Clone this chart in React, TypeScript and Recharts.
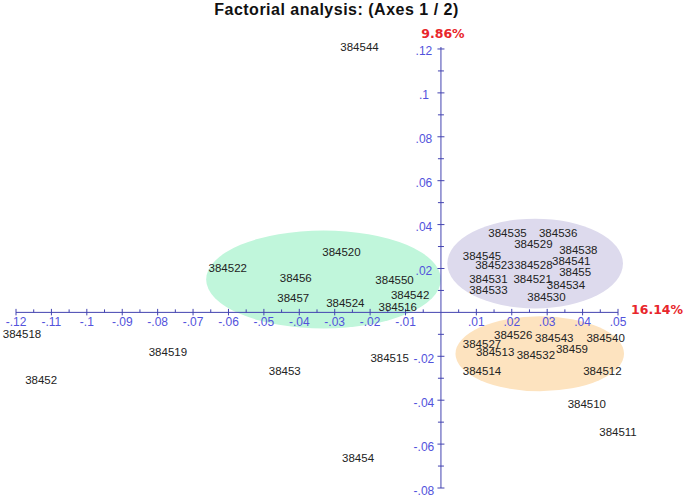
import { ScatterChart, Scatter, XAxis, YAxis, ReferenceLine, ReferenceArea } from "recharts";

// Labelled individuals, positions (axis 1 = x, axis 2 = y)
const pointNames = [
  "384544", "384518", "384519", "38452", "38453", "384515", "38454", "384510", "384511",
  "384520", "384522", "38456", "384550", "38457", "384542", "384524", "384516",
  "384535", "384536", "384529", "384538", "384545", "384523", "384528", "384541",
  "38455", "384531", "384521", "384534", "384533", "384530",
  "384526", "384543", "384540", "384527", "384513", "384532", "38459", "384514", "384512",
];
const pointX = [
  -0.023, -0.1183, -0.0771, -0.1129, -0.0441, -0.0145, -0.0234, 0.0412, 0.05,
  -0.0281, -0.0602, -0.041, -0.0131, -0.0417, -0.0087, -0.027, -0.0122,
  0.0188, 0.0331, 0.0261, 0.0388, 0.0116, 0.0151, 0.0261, 0.0368,
  0.0379, 0.0134, 0.0259, 0.0353, 0.0134, 0.0298,
  0.0204, 0.032, 0.0465, 0.0116, 0.0153, 0.0268, 0.037, 0.0116, 0.0456,
];
const pointY = [
  0.1209, -0.0097, -0.0182, -0.0309, -0.0268, -0.0208, -0.0662, -0.0417, -0.0544,
  0.0273, 0.0201, 0.0156, 0.0149, 0.0065, 0.008, 0.0042, 0.0024,
  0.036, 0.036, 0.031, 0.0282, 0.0258, 0.0217, 0.0217, 0.0232,
  0.0183, 0.0151, 0.0151, 0.0126, 0.01, 0.007,
  -0.0101, -0.0117, -0.0117, -0.0142, -0.0182, -0.0192, -0.0167, -0.0268, -0.0268,
];

// Cluster ellipses, given by their bounding box in data units
const clusterX1 = [-0.0663, 0.0018, 0.0041];
const clusterX2 = [0, 0.0514, 0.0517];
const clusterY1 = [-0.0073, 0.0018, -0.0359];
const clusterY2 = [0.0373, 0.0427, -0.0018];
const clusterColors = ["#c0f6db", "#dddaed", "#fde3bf"];

const xTickValues = [-0.12, -0.11, -0.1, -0.09, -0.08, -0.07, -0.06, -0.05, -0.04, -0.03, -0.02, -0.01, 0.01, 0.02, 0.03, 0.04, 0.05];
const xTickLabels = ["-.12", "-.11", "-.1", "-.09", "-.08", "-.07", "-.06", "-.05", "-.04", "-.03", "-.02", "-.01", ".01", ".02", ".03", ".04", ".05"];
const xMinorTicks = [-0.115, -0.105, -0.095, -0.085, -0.075, -0.065, -0.055, -0.045, -0.035, -0.025, -0.015, -0.005, 0.005, 0.015, 0.025, 0.035, 0.045];
const yTickValues = [-0.08, -0.06, -0.04, -0.02, 0.02, 0.04, 0.06, 0.08, 0.1, 0.12];
const yTickLabels = ["-.08", "-.06", "-.04", "-.02", ".02", ".04", ".06", ".08", ".1", ".12"];
const yMinorTicks = [-0.07, -0.05, -0.03, -0.01, 0.01, 0.03, 0.05, 0.07, 0.09, 0.11];

const axis1Pct = "16.14%";
const axis2Pct = "9.86%";
const title = "Factorial analysis: (Axes 1 / 2)";

const axisColor = "#4343b0";
const tickTextColor = "#5252dc";
const pctColor = "#e8262b";
const sans = "'Liberation Sans', Arial, sans-serif";

const points = pointNames.map((name, i) => ({ x: pointX[i], y: pointY[i], name }));
const xTicks = xTickValues.map((v, i) => ({ x: v, y: 0, label: xTickLabels[i] }));
const yTicks = yTickValues.map((v, i) => ({ x: 0, y: v, label: yTickLabels[i] }));
const xMinor = xMinorTicks.map((v) => ({ x: v, y: 0 }));
const yMinor = yMinorTicks.map((v) => ({ x: 0, y: v }));

const EllipseShape = (props: any) => {
  const { x, y, width, height, fill } = props;
  return <ellipse cx={x + width / 2} cy={y + height / 2} rx={width / 2} ry={height / 2} fill={fill} />;
};

const XTick = ({ cx, cy, payload }: any) => (
  <g>
    <line x1={cx} y1={cy - 3.5} x2={cx} y2={cy + 3} stroke={axisColor} />
    <text x={cx} y={cy + 13.5} textAnchor="middle" fill={tickTextColor} fontSize={12} fontFamily={sans}>
      {payload.label}
    </text>
  </g>
);

const YTick = ({ cx, cy, payload }: any) => (
  <g>
    <line x1={cx - 3.5} y1={cy} x2={cx + 3.5} y2={cy} stroke={axisColor} />
    <text x={cx - 17} y={cy + 6.5} textAnchor="middle" fill={tickTextColor} fontSize={12} fontFamily={sans}>
      {payload.label}
    </text>
  </g>
);

const XMinor = ({ cx, cy }: any) => <line x1={cx} y1={cy - 3} x2={cx} y2={cy} stroke={axisColor} />;
const YMinor = ({ cx, cy }: any) => <line x1={cx - 3} y1={cy} x2={cx + 3} y2={cy} stroke={axisColor} />;

const NameLabel = ({ cx, cy, payload }: any) => (
  <text x={cx} y={cy + 4} textAnchor="middle" fill="#222" fontSize={11.5} fontFamily={sans}>
    {payload.name}
  </text>
);

const pctText = { fill: pctColor, fontSize: 12.5, fontWeight: 700, fontFamily: "'DejaVu Sans', sans-serif" };

export default function App() {
  return (
    <div style={{ position: "absolute", left: 0, top: 0, width: 687, height: 499, background: "#fff" }}>
      <div
        style={{
          position: "absolute",
          left: 0,
          top: 1,
          width: 673,
          textAlign: "center",
          fontFamily: sans,
          fontWeight: 700,
          fontSize: 16,
          lineHeight: "18px",
          letterSpacing: 0.5,
          color: "#111",
        }}
      >
        {title}
      </div>
      <ScatterChart width={687} height={499} margin={{ top: 47, right: 69, bottom: 11, left: 16 }}>
        <XAxis type="number" dataKey="x" domain={[-0.12, 0.05]} hide />
        <YAxis type="number" dataKey="y" domain={[-0.08, 0.12]} hide />
        {clusterColors.map((c, i) => (
          <ReferenceArea
            key={i}
            x1={clusterX1[i]}
            x2={clusterX2[i]}
            y1={clusterY1[i]}
            y2={clusterY2[i]}
            fill={c}
            fillOpacity={1}
            stroke="none"
            ifOverflow="visible"
            shape={EllipseShape}
          />
        ))}
        <ReferenceLine
          y={0}
          stroke={axisColor}
          label={(p: any) => (
            <text x={p.viewBox.x + p.viewBox.width + 13} y={p.viewBox.y + 2} {...pctText}>
              {axis1Pct}
            </text>
          )}
        />
        <ReferenceLine
          x={0}
          stroke={axisColor}
          label={(p: any) => (
            <text x={p.viewBox.x + 2} y={p.viewBox.y - 9} textAnchor="middle" {...pctText}>
              {axis2Pct}
            </text>
          )}
        />
        <Scatter data={xMinor} shape={XMinor} isAnimationActive={false} />
        <Scatter data={yMinor} shape={YMinor} isAnimationActive={false} />
        <Scatter data={xTicks} shape={XTick} isAnimationActive={false} />
        <Scatter data={yTicks} shape={YTick} isAnimationActive={false} />
        <Scatter data={points} shape={NameLabel} isAnimationActive={false} />
      </ScatterChart>
    </div>
  );
}
